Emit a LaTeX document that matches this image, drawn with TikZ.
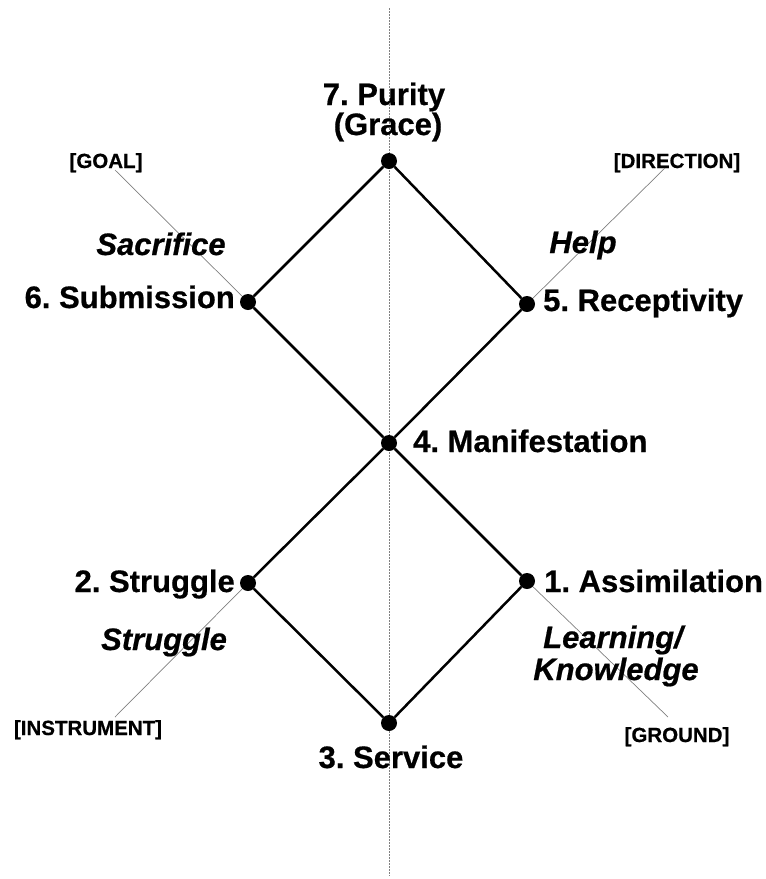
\documentclass[tikz,border=0pt]{standalone}
\usepackage{fontspec}
\setmainfont{Liberation Sans}[BoldFeatures={FakeBold=0.6},BoldItalicFeatures={FakeBold=0.6}]
\begin{document}
\frenchspacing
\begin{tikzpicture}[x=1pt,y=-1pt,
  dot/.style={circle,fill=black,inner sep=0pt,minimum size=16pt},
  edge/.style={line width=2.5pt,black},
  guide/.style={line width=0.7pt,gray},
  axis/.style={line width=0.8pt,gray,dash pattern=on 2pt off 1pt},
  lab/.style={inner sep=0pt,font=\fontsize{31}{33}\selectfont\bfseries},
  ital/.style={inner sep=0pt,font=\fontsize{31}{33}\selectfont\bfseries\itshape},
  tag/.style={inner sep=0pt,font=\fontsize{20.5}{22}\selectfont\bfseries}]
\useasboundingbox (0,0) rectangle (766,879);
% axis
\coordinate (axtop) at (389,8);
\coordinate (axbot) at (389,876);
\draw[axis] (axtop) -- (axbot);
% dots
\node[dot] (p7) at (389,161) {};
\node[dot] (p6) at (248,302) {};
\node[dot] (p5) at (527,304) {};
\node[dot] (p4) at (389,443) {};
\node[dot] (p2) at (248,583) {};
\node[dot] (p1) at (527,581) {};
\node[dot] (p3) at (389,723) {};
% tags
\node[tag,anchor=base] (goal) at (106,168) {[GOAL]};
\node[tag,anchor=base] (dir) at (677,168) {[DIRECTION]};
\node[tag,anchor=base] (instr) at (88,735) {[INSTRUMENT]};
\node[tag,anchor=base] (ground) at (677,742) {[GROUND]};
% guide lines
\coordinate (g1) at (115,170);
\coordinate (g2) at (665,168);
\coordinate (g3) at (115,717);
\coordinate (g4) at (668,717);
\draw[guide] (g1) -- (p6);
\draw[guide] (g2) -- (p5);
\draw[guide] (g3) -- (p2);
\draw[guide] (g4) -- (p1);
% diamond edges
\draw[edge] (p7) -- (p6);
\draw[edge] (p6) -- (p4);
\draw[edge] (p4) -- (p2);
\draw[edge] (p2) -- (p3);
\draw[edge] (p3) -- (p1);
\draw[edge] (p1) -- (p4);
\draw[edge] (p4) -- (p5);
\draw[edge] (p5) -- (p7);
% labels
\node[lab,anchor=base] (l7a) at (384,105) {7. Purity};
\node[lab,anchor=base] (l7b) at (388,135) {(Grace)};
\node[lab,anchor=base east] (l6) at (235,308) {6. Submission};
\node[lab,anchor=base west] (l5) at (543,311) {5. Receptivity};
\node[lab,anchor=base west] (l4) at (413,452) {4. Manifestation};
\node[lab,anchor=base east] (l2) at (235,592) {2. Struggle};
\node[lab,anchor=base west] (l1) at (544,592) {1. Assimilation};
\node[lab,anchor=base] (l3) at (391,768) {3. Service};
\node[ital,anchor=base] (sac) at (161,255) {Sacrifice};
\node[ital,anchor=base] (help) at (583,253) {Help};
\node[ital,anchor=base] (strug) at (164,650) {Struggle};
\node[ital,anchor=base] (learn) at (613,648) {Learning/};
\node[ital,anchor=base] (know) at (616,680) {Knowledge};
\end{tikzpicture}
\end{document}
